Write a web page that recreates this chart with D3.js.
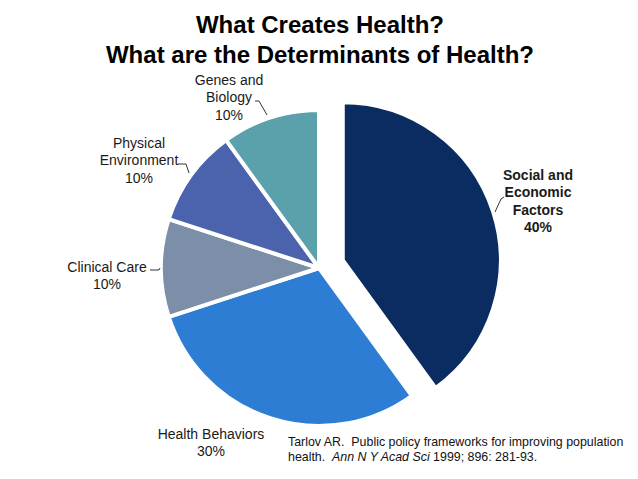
<!DOCTYPE html>
<html>
<head>
<meta charset="utf-8">
<script src="https://cdn.jsdelivr.net/npm/d3@7"></script>
<style>
  body { margin: 0; background: #fff; }
  svg { font-family: "Liberation Sans", Arial, sans-serif; }
</style>
</head>
<body>
<div id="chart"></div>
<script>
// data, clockwise from 12 o'clock
var categories = ["Social and Economic Factors", "Health Behaviors", "Clinical Care", "Physical Environment", "Genes and Biology"];
var shares = [40, 30, 10, 10, 10];
var colors = ["#0b2c61", "#2e7dd4", "#7d8ea8", "#4a63ac", "#5aa1ac"];
var labelLines = [
  ["Social and", "Economic", "Factors", "40%"],
  ["Health Behaviors", "30%"],
  ["Clinical Care", "10%"],
  ["Physical", "Environment", "10%"],
  ["Genes and", "Biology", "10%"]
];
var titleLines = ["What Creates Health?", "What are the Determinants of Health?"];

var width = 638, height = 479;
var cx = 319, cy = 268, radius = 158;
var explode = 25;   // Social slice pulled out

var svg = d3.select("#chart").append("svg")
    .attr("width", width)
    .attr("height", height);

// title
svg.append("g").selectAll("text")
    .data(titleLines)
  .enter().append("text")
    .attr("x", 320)
    .attr("y", (d, i) => 33 + i * 30)
    .attr("text-anchor", "middle")
    .attr("font-size", "24px")
    .attr("font-weight", "bold")
    .attr("fill", "#000")
    .text(d => d);

var pie = d3.pie().sort(null).value(d => d);
var arcs = pie(shares);
var arc = d3.arc().innerRadius(0).outerRadius(radius);

var g = svg.append("g").attr("transform", "translate(" + cx + "," + cy + ")");

g.selectAll("path")
    .data(arcs)
  .enter().append("path")
    .attr("d", arc)
    .attr("fill", (d, i) => colors[i])
    .attr("stroke", "#fff")
    .attr("stroke-width", 4)
    .attr("stroke-linejoin", "round")
    .attr("transform", (d, i) => {
      if (i !== 0) return null;
      var a = (d.startAngle + d.endAngle) / 2;
      return "translate(" + (Math.sin(a) * explode) + "," + (-Math.cos(a) * explode) + ")";
    });

// label positions (centre of text block, first baseline) and leader lines
var labelPos = [
  {x: 538, y: 180, bold: true},
  {x: 211, y: 439},
  {x: 107, y: 272},
  {x: 139, y: 148},
  {x: 229, y: 85}
];
var leaders = [
  [[495, 212], [501, 199], [504, 197]],
  null,
  [[150, 270], [159, 270], [160, 268]],
  [[178, 164], [186, 164], [189, 173]],
  [[255, 101], [259, 101], [267, 115]]
];

var labels = svg.append("g");
labelLines.forEach((lines, i) => {
  var p = labelPos[i];
  var t = labels.append("text")
      .attr("text-anchor", "middle")
      .attr("font-size", "14px")
      .attr("font-weight", p.bold ? "bold" : "normal")
      .attr("fill", "#1a1a1a");
  lines.forEach((s, j) => {
    t.append("tspan").attr("x", p.x).attr("y", p.y + j * 17.3).text(s);
  });
  if (leaders[i]) {
    labels.append("path")
        .attr("d", d3.line()(leaders[i]))
        .attr("fill", "none")
        .attr("stroke", "#333")
        .attr("stroke-width", 1);
  }
});

// citation
var cite = svg.append("text")
    .attr("font-size", "12.4px")
    .attr("fill", "#111");
cite.append("tspan").attr("x", 288).attr("y", 446)
    .text("Tarlov AR.\u00a0 Public policy frameworks for improving population");
var c2 = svg.append("text")
    .attr("x", 288).attr("y", 461)
    .attr("font-size", "12.4px")
    .attr("fill", "#111");
c2.append("tspan").text("health.\u00a0 ");
c2.append("tspan").attr("font-style", "italic").text("Ann N Y Acad Sci");
c2.append("tspan").text(" 1999; 896: 281-93.");
</script>
</body>
</html>
